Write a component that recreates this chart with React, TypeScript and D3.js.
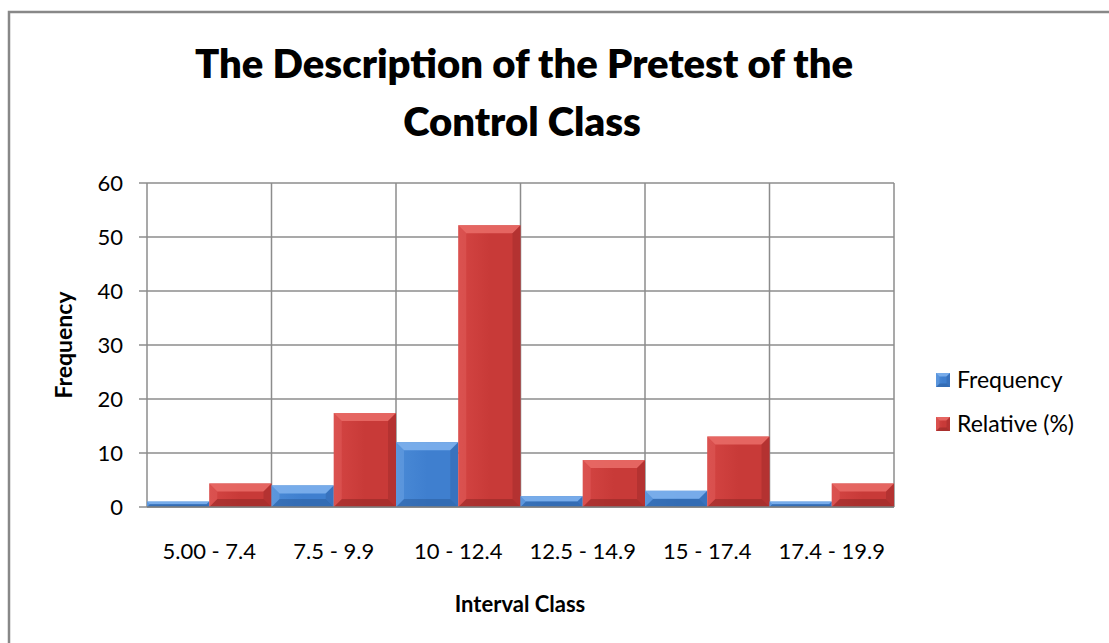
import React from "react";
import * as d3 from "d3";

const categories = ["5.00 - 7.4", "7.5 - 9.9", "10 - 12.4", "12.5 - 14.9", "15 - 17.4", "17.4 - 19.9"];
const frequency = [1, 4, 12, 2, 3, 1];
const relative = [4.35, 17.39, 52.17, 8.7, 13.04, 4.35];
const seriesNames = ["Frequency", "Relative (%)"];
const yTicks = [0, 10, 20, 30, 40, 50, 60];

const W = 1109, H = 643;
const left = 147, right = 894, top = 183, bottom = 507;
const FONT = "Lato, 'Open Sans', sans-serif";

const palette = [
  { base: "#3f7fcf", light: "#7db0ec", dark: "#2a5c9e", mid: "#4a8ad6" },
  { base: "#c83a38", light: "#e86a66", dark: "#8f2624", mid: "#d44543" },
];

function Bar({ x, y, w, h, s }: { x: number; y: number; w: number; h: number; s: number }) {
  const c = palette[s];
  const b = Math.min(8, h / 2, w / 4);
  return (
    <g>
      <rect x={x} y={y} width={w} height={h} fill={`url(#g${s})`} />
      {h > 1 && (
        <>
          <polygon points={`${x},${y} ${x + w},${y} ${x + w - b},${y + b} ${x + b},${y + b}`} fill={c.light} opacity={0.9} />
          <polygon points={`${x},${y + h} ${x + w},${y + h} ${x + w - b},${y + h - b} ${x + b},${y + h - b}`} fill={c.dark} opacity={0.55} />
          <polygon points={`${x},${y} ${x + b},${y + b} ${x + b},${y + h - b} ${x},${y + h}`} fill={c.light} opacity={0.35} />
          <polygon points={`${x + w},${y} ${x + w - b},${y + b} ${x + w - b},${y + h - b} ${x + w},${y + h}`} fill={c.dark} opacity={0.35} />
        </>
      )}
    </g>
  );
}

export default function App() {
  const x0 = d3.scaleBand<string>().domain(categories).range([left, right]).padding(0);
  const x1 = d3.scaleBand<number>().domain([0, 1]).range([0, x0.bandwidth()]).padding(0);
  const y = d3.scaleLinear().domain([0, 60]).range([bottom, top]);
  const series = [frequency, relative];
  const grid = "#8c8c8c";

  return (
    <svg width={W} height={H} style={{ position: "absolute", left: 0, top: 0 }} fontFamily={FONT}>
      <defs>
        {palette.map((c, i) => (
          <linearGradient key={i} id={`g${i}`} x1="0" y1="0" x2="1" y2="0">
            <stop offset="0" stopColor={c.mid} />
            <stop offset="0.5" stopColor={c.base} />
            <stop offset="1" stopColor={c.base} />
          </linearGradient>
        ))}
      </defs>
      <rect x={0} y={0} width={W} height={H} fill="#fff" />
      <rect x={9} y={12} width={W + 20} height={H + 20} fill="none" stroke="#888" strokeWidth={2.5} />

      <text x={524} y={78} textAnchor="middle" fontSize={40} fontWeight={800} fill="#000">
        The Description of the Pretest of the
      </text>
      <text x={522} y={136} textAnchor="middle" fontSize={40} fontWeight={800} fill="#000">
        Control Class
      </text>

      {yTicks.map((t) => (
        <g key={t}>
          <line x1={left - 8} x2={right} y1={y(t)} y2={y(t)} stroke={grid} strokeWidth={1.5} />
          <text x={123} y={y(t)} dy="0.35em" textAnchor="end" fontSize={22} fill="#000">{t}</text>
        </g>
      ))}
      {categories.map((c) => (
        <line key={c} x1={x0(c)!} x2={x0(c)!} y1={top} y2={bottom} stroke={grid} strokeWidth={1.5} />
      ))}
      <line x1={right} x2={right} y1={top} y2={bottom} stroke={grid} strokeWidth={1.5} />

      {categories.map((c, i) =>
        series.map((vals, s) => {
          const bx = x0(c)! + x1(s)!;
          const by = y(vals[i]);
          return <Bar key={c + s} x={bx} y={by} w={x1.bandwidth()} h={bottom - by} s={s} />;
        })
      )}
      <line x1={left} x2={right} y1={bottom} y2={bottom} stroke="#808080" strokeWidth={1.5} />

      {categories.map((c) => (
        <text key={c} x={x0(c)! + x0.bandwidth() / 2} y={551} dy="0.35em" textAnchor="middle" fontSize={22} fill="#000">{c}</text>
      ))}
      <text x={520} y={604} dy="0.35em" textAnchor="middle" fontSize={22} fontWeight={700} fill="#000">Interval Class</text>
      <text transform={`translate(64,345) rotate(-90)`} dy="0.35em" textAnchor="middle" fontSize={23} fontWeight={700} fill="#000">Frequency</text>

      {seriesNames.map((n, i) => (
        <g key={n} transform={`translate(936,${380 + i * 44})`}>
          <Bar x={0} y={-7} w={14} h={14} s={i} />
          <text x={21} y={0} dy="0.35em" fontSize={23} fill="#000">{n}</text>
        </g>
      ))}
    </svg>
  );
}
